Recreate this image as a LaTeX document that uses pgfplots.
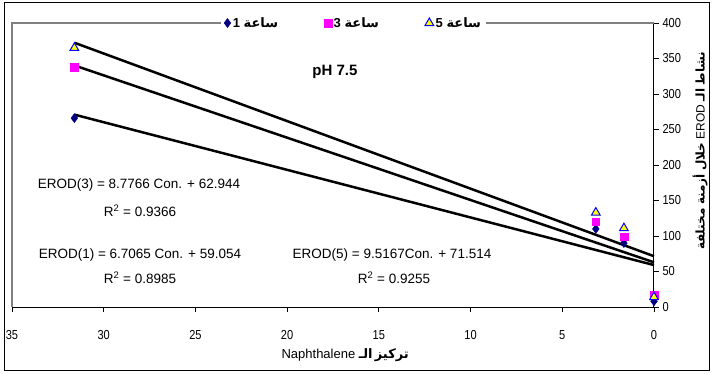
\documentclass[border=0pt]{standalone}
\usepackage{fontspec}
\usepackage{pgfplots}
\pgfplotsset{compat=1.18}
\setmainfont{Liberation Sans}
\newfontfamily\arabicfont[Script=Arabic]{DejaVu Sans}
\newfontfamily\narrowfont[FakeStretch=0.85]{Liberation Sans}
\definecolor{navyb}{RGB}{0,0,128}
\definecolor{magb}{RGB}{255,0,255}
\definecolor{triy}{RGB}{255,255,0}
\definecolor{trib}{RGB}{0,0,255}
\definecolor{framegray}{RGB}{128,128,128}
\begin{document}
\begin{tikzpicture}[x=1pt,y=1pt]
\useasboundingbox (0,0) rectangle (712,373);
\draw[black, line width=1pt] (4,3) rectangle (709,370);
\begin{axis}[at={(12pt,66pt)}, anchor=south west, scale only axis,
  width=642pt, height=284pt,
  x dir=reverse, xmin=0, xmax=35, ymin=0, ymax=400,
  axis x line*=bottom, axis y line*=right,
  axis line style={-, line width=1pt},
  xtick={0,5,...,35}, ytick={0,50,...,400},
  tick align=outside, major tick length=5pt,
  tick style={black, line width=0.8pt},
  /pgf/number format/assume math mode=true,
  ticklabel style={font=\narrowfont\fontsize{13}{13}\selectfont},
  xticklabel style={yshift=-15pt},
  clip=false,
  xlabel={\fontsize{13}{13}\selectfont Naphthalene {\arabicfont\bfseries الـ}\,{\arabicfont\bfseries تركيز}},
  xlabel style={at={(axis description cs:0.519,-0.169)}, anchor=center},
  ylabel={\fontsize{12}{12}\selectfont{\arabicfont\bfseries مختلفة} {\arabicfont\bfseries أزمنة} {\arabicfont\bfseries خلال} EROD {\arabicfont\bfseries الـ} {\arabicfont\bfseries نشاط}},
  ylabel style={at={(axis description cs:1.072,0.55)}, anchor=center, rotate=0},
  legend style={at={(axis description cs:0.532,1)}, anchor=center, draw=none, fill=white,
    legend columns=3, font=\fontsize{13}{13}\selectfont,
    /tikz/every even column/.append style={column sep=44pt}},
  legend cell align=left,
]
\draw[framegray, line width=1.2pt] (rel axis cs:0,0) -- (rel axis cs:0,1) -- (rel axis cs:1,1);
\addplot[black, line width=2.5pt, forget plot] coordinates {(0,59.054) (31.6,270.98)};
\addplot[black, line width=2.5pt, forget plot] coordinates {(0,62.944) (31.6,340.28)};
\addplot[black, line width=2.5pt, forget plot] coordinates {(0,71.514) (31.6,372.24)};
\addplot[only marks, mark=diamond*, mark size=4.5pt, mark options={fill=navyb, draw=navyb}]
  coordinates {(31.6,266) (3.17,110) (1.64,90) (0,8)};
\addlegendentry{\textbf{1} {\arabicfont\bfseries ساعة}}
\addplot[only marks, mark=square*, mark size=3.8pt, mark options={fill=magb, draw=magb}]
  coordinates {(31.6,338) (3.17,120) (1.64,99) (0,17)};
\addlegendentry{\textbf{3} {\arabicfont\bfseries ساعة}}
\addplot[only marks, mark=triangle*, mark size=5pt, mark options={fill=triy, draw=trib, line width=1pt}]
  coordinates {(31.6,365) (3.17,133) (1.64,111) (0,14)};
\addlegendentry{\textbf{5} {\arabicfont\bfseries ساعة}}
\end{axis}
\begin{scope}[every node/.style={font=\fontsize{13.5}{14}\selectfont, inner sep=0pt}]
\node at (139,{373-185}) {EROD(3) = 8.7766 Con. + 62.944};
\node at (140,{373-211}) {R\textsuperscript{2} = 0.9366};
\node at (140,{373-255}) {EROD(1) = 6.7065 Con. + 59.054};
\node at (140,{373-278}) {R\textsuperscript{2} = 0.8985};
\node at (392,{373-255}) {EROD(5) = 9.5167Con. + 71.514};
\node at (394,{373-278}) {R\textsuperscript{2} = 0.9255};
\end{scope}
\node[font=\bfseries\fontsize{15}{15}\selectfont, inner sep=0pt] at (335,{373-72}) {pH 7.5};
\end{tikzpicture}
\end{document}
